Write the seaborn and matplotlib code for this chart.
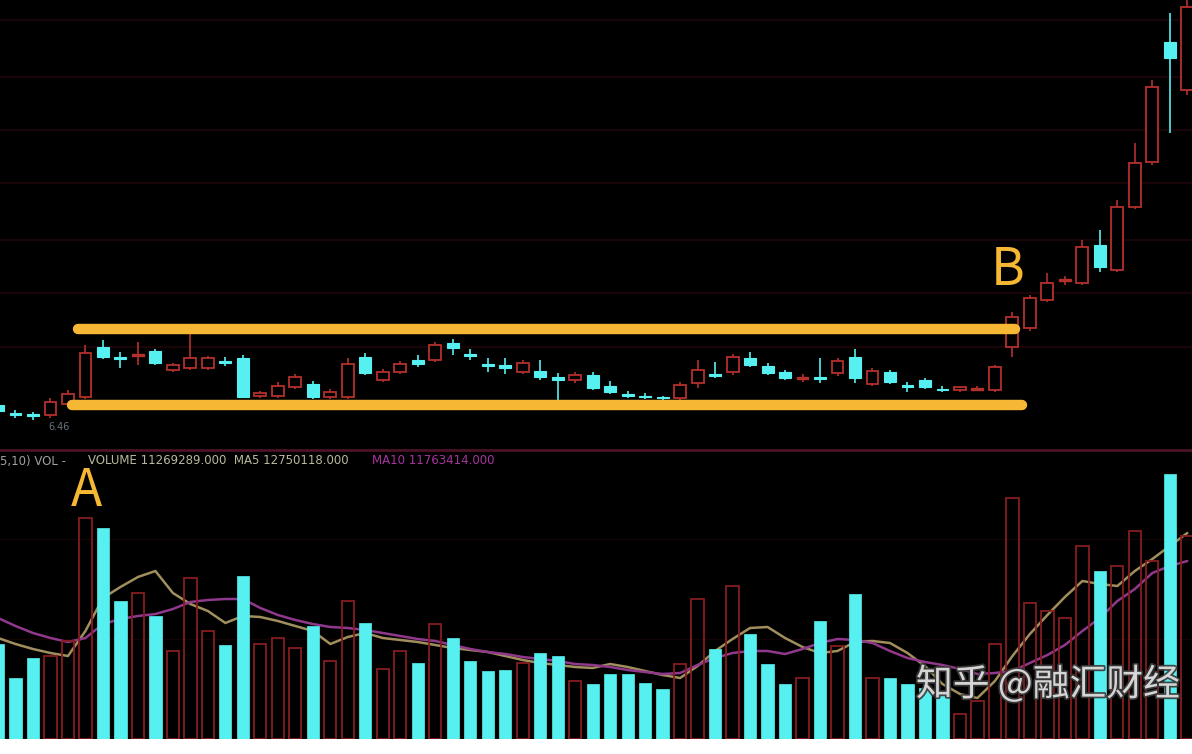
import matplotlib
matplotlib.use("Agg")
import matplotlib.pyplot as plt
import matplotlib.patheffects as pe
import numpy as np
import pandas as pd
import seaborn as sns

# ---------------- data ----------------
opens = [4.5, 3.65, 3.55, 3.5, 4.6, 5.3, 10.3, 9.3, 9.4, 9.9,
         8.0, 8.2, 8.2, 8.9, 9.2, 5.4, 5.4, 6.3, 6.6, 5.3,
         5.3, 9.3, 7.0, 7.8, 9.0, 9.0, 10.7, 9.6, 8.6, 8.5,
         7.8, 7.9, 7.3, 7.0, 7.5, 6.4, 5.6, 5.4, 5.3, 5.2,
         6.7, 7.6, 7.8, 9.2, 8.4, 7.8, 7.1, 7.3, 7.7, 9.3,
         6.6, 7.8, 6.5, 7.0, 6.1, 6.0, 6.0, 6.0, 10.3, 12.2,
         15.0, 16.9, 16.7, 20.5, 18.0, 24.3, 28.8, 40.8, 36.0]
closes = [3.9, 3.55, 3.45, 4.8, 5.6, 9.7, 9.3, 9.1, 9.6, 8.7,
          8.5, 9.2, 9.2, 8.7, 5.3, 5.7, 6.4, 7.3, 5.3, 5.8,
          8.6, 7.7, 7.8, 8.6, 8.6, 10.5, 10.2, 9.4, 8.4, 8.2,
          8.7, 7.3, 7.0, 7.5, 6.2, 5.8, 5.4, 5.3, 5.2, 6.5,
          8.0, 7.4, 9.3, 8.5, 7.7, 7.2, 7.3, 7.1, 8.9, 7.2,
          7.9, 6.8, 6.3, 6.3, 6.0, 6.3, 6.2, 8.3, 13.3, 15.2,
          16.7, 17.1, 20.3, 18.3, 24.3, 28.7, 36.3, 39.2, 44.3]
highs = [4.8, 4.0, 3.8, 5.2, 6.0, 10.5, 11.0, 9.8, 10.8, 10.1,
         8.7, 11.6, 9.4, 9.3, 9.5, 5.9, 6.8, 7.6, 6.9, 6.1,
         9.2, 9.7, 8.1, 8.9, 9.5, 10.8, 11.1, 10.1, 9.2, 9.2,
         9.0, 9.0, 7.7, 7.8, 7.8, 6.9, 5.9, 5.7, 5.4, 6.8,
         9.0, 8.8, 9.6, 9.8, 8.7, 8.0, 7.6, 9.2, 9.2, 10.1,
         8.2, 8.0, 6.8, 7.2, 6.4, 6.4, 6.4, 8.5, 13.8, 15.5,
         17.7, 17.4, 21.0, 22.0, 25.0, 30.7, 37.0, 43.7, 45.0]
lows = [3.7, 3.2, 3.0, 3.2, 4.4, 5.1, 9.1, 8.2, 8.5, 8.5,
        7.8, 8.0, 8.0, 8.4, 5.2, 5.2, 5.2, 6.1, 5.1, 5.1,
        5.1, 7.5, 6.8, 7.6, 8.3, 8.8, 9.5, 9.0, 7.8, 7.6,
        7.6, 7.0, 4.8, 6.7, 6.0, 5.6, 5.2, 5.1, 5.0, 5.0,
        6.2, 7.2, 7.5, 8.3, 7.5, 7.0, 6.8, 6.7, 7.4, 6.7,
        6.4, 6.6, 5.8, 6.1, 5.8, 5.8, 5.9, 5.8, 9.3, 11.9,
        14.8, 16.5, 16.5, 17.8, 17.8, 24.1, 28.5, 31.7, 35.5]
volumes = [95, 61, 81, 83, 98, 221, 211, 138, 146, 123,
           88, 161, 108, 94, 163, 95, 101, 91, 113, 78,
           138, 116, 70, 88, 76, 115, 101, 78, 68, 69,
           76, 86, 83, 58, 55, 65, 65, 56, 50, 75,
           140, 90, 153, 105, 75, 55, 61, 118, 93, 145,
           61, 61, 55, 51, 45, 25, 38, 95, 241, 136,
           128, 121, 193, 168, 173, 208, 178, 265, 203]
vol_ma5 = [101, 95, 90, 86, 83, 108, 141, 152, 162, 168,
           146, 135, 128, 116, 123, 122, 118, 113, 108, 95,
           102, 106, 101, 99, 97, 94, 91, 89, 87, 83,
           79, 76, 74, 72, 71, 75, 72, 68, 64, 61,
           73, 88, 100, 111, 112, 101, 92, 86, 88, 97,
           98, 96, 86, 73, 55, 45, 41, 58, 83, 105,
           124, 142, 158, 155, 153, 168, 180, 193, 206]
vol_ma10 = [121, 113, 106, 101, 97, 101, 115, 120, 123, 125,
            130, 137, 139, 140, 140, 131, 124, 119, 115, 112,
            111, 109, 106, 103, 100, 98, 94, 90, 87, 85,
            82, 80, 78, 75, 74, 72, 69, 67, 65, 66,
            74, 81, 86, 88, 88, 85, 90, 96, 100, 99,
            96, 88, 81, 77, 74, 70, 65, 66, 68, 76,
            84, 94, 108, 121, 138, 150, 166, 173, 178]
box_top = 12.1
box_bottom = 4.5
point_labels = ["A", "B"]
low_label = "6.46"
legend_parts = ["5,10) VOL -", "VOLUME 11269289.000  MA5 12750118.000", "MA10 11763414.000"]
watermark = "知乎 @融汇财经"

# ---------------- style ----------------
sns.set_theme(style="dark", rc={"axes.facecolor": "black", "figure.facecolor": "white"})
plt.rcParams["font.family"] = ["DejaVu Sans", "Noto Sans CJK SC"]

RED = "#b4302c"
RED_V = "#861c20"
CYAN = "#56f0f0"
YELLOW = "#f6b834"
GRID = "#1f0609"

n = len(opens)
df = pd.DataFrame({"idx": np.arange(n), "open": opens, "close": closes,
                   "high": highs, "low": lows, "vol": volumes,
                   "ma5": vol_ma5, "ma10": vol_ma10})
df["up"] = df["close"] >= df["open"]
df["btm"] = df[["open", "close"]].min(axis=1)
df["top"] = df[["open", "close"]].max(axis=1)
df["h"] = (df["top"] - df["btm"]).clip(lower=0.12)

W, H = 1192, 754
fig = plt.figure(figsize=(W / 100, H / 100), dpi=100, facecolor="white")
ax = fig.add_axes([0, 304 / H, 1, 450 / H])
axv = fig.add_axes([0, 15 / H, 1, 289 / H])

xlim = (2 / 17.49, 1194 / 17.49)
for a in (ax, axv):
    a.set_facecolor("black")
    a.set_xlim(*xlim)
    a.set_xticks([])
    a.tick_params(left=False, bottom=False, labelleft=False, labelbottom=False)
    for s in a.spines.values():
        s.set_visible(False)

# ---------------- price pane ----------------
ax.set_ylim(0, 45)
ax.set_yticks([10.3, 15.7, 21.0, 26.7, 32.0, 37.3, 43.0])
ax.grid(axis="y", color=GRID, lw=1.2)
ax.grid(axis="x", visible=False)

bw = 0.68
up = df[df["up"]]
dn = df[~df["up"]]
for sub, col in ((up, RED), (dn, CYAN)):
    ax.vlines(sub["idx"], sub["top"], sub["high"], color=col, lw=1.2, zorder=2)
    ax.vlines(sub["idx"], sub["low"], sub["btm"], color=col, lw=1.2, zorder=2)
flat = up["h"] <= 0.25
ax.bar(up["idx"][~flat], up["h"][~flat], bottom=up["btm"][~flat], width=bw,
       facecolor="black", edgecolor=RED, lw=1.3, zorder=3)
ax.bar(up["idx"][flat], up["h"][flat], bottom=up["btm"][flat], width=bw,
       facecolor=RED, edgecolor=RED, lw=1.0, zorder=3)
ax.bar(dn["idx"], dn["h"], bottom=dn["btm"], width=bw,
       facecolor=CYAN, edgecolor=CYAN, lw=0.8, zorder=3)

ax.plot([4.57, 58.15], [box_top, box_top], color=YELLOW, lw=7.5,
        solid_capstyle="round", zorder=5)
ax.plot([4.23, 58.55], [box_bottom, box_bottom], color=YELLOW, lw=7.5,
        solid_capstyle="round", zorder=5)
ax.text(57.75, 18.0, point_labels[1], color=YELLOW, fontsize=37,
        ha="center", va="center", family=["Noto Sans CJK SC", "DejaVu Sans"], zorder=6)
ax.text(2.9, 2.3, low_label, color="#66747c", fontsize=7, ha="left", va="center")

# ---------------- volume pane ----------------
axv.set_ylim(0, 289)
axv.set_yticks([100, 200])
axv.grid(axis="y", color="#140405", lw=1.0)
axv.grid(axis="x", visible=False)
axv.spines["top"].set_visible(True)
axv.spines["top"].set_color("#4c1226")
axv.spines["top"].set_linewidth(2)

sns.lineplot(data=df, x="idx", y="ma5", ax=axv, color="#a08e5c", lw=1.8, zorder=2)
sns.lineplot(data=df, x="idx", y="ma10", ax=axv, color="#90388c", lw=1.8, zorder=2)
axv.set_xlabel("")
axv.set_ylabel("")

axv.bar(up["idx"], up["vol"], width=0.7, facecolor="none", edgecolor=RED_V, lw=1.3, zorder=3)
axv.bar(dn["idx"], dn["vol"], width=0.7, facecolor=CYAN, edgecolor=CYAN, lw=0.5, zorder=4)
axv.set_xlim(*xlim)

axv.text(5.03, 248, point_labels[0], color=YELLOW, fontsize=37, ha="center", va="center",
         family=["Noto Sans CJK SC", "DejaVu Sans"], zorder=6)

ly = (H - 461) / H
fig.text(0 / W, ly, legend_parts[0], color="#a0a0a0", fontsize=8.5, va="center")
fig.text(88 / W, ly, legend_parts[1], color="#bcb89c", fontsize=8.5, va="center")
fig.text(372 / W, ly, legend_parts[2], color="#a8349f", fontsize=8.5, va="center")

fig.text(916 / W, (H - 685) / H, watermark, color="#e2e2e2", fontsize=26.5, va="center",
         ha="left", family=["Noto Sans CJK SC", "DejaVu Sans"], alpha=0.92,
         path_effects=[pe.withStroke(linewidth=2.5, foreground="#3a3a3a")], zorder=10)

fig.savefig("out.png", dpi=100, facecolor="white")
